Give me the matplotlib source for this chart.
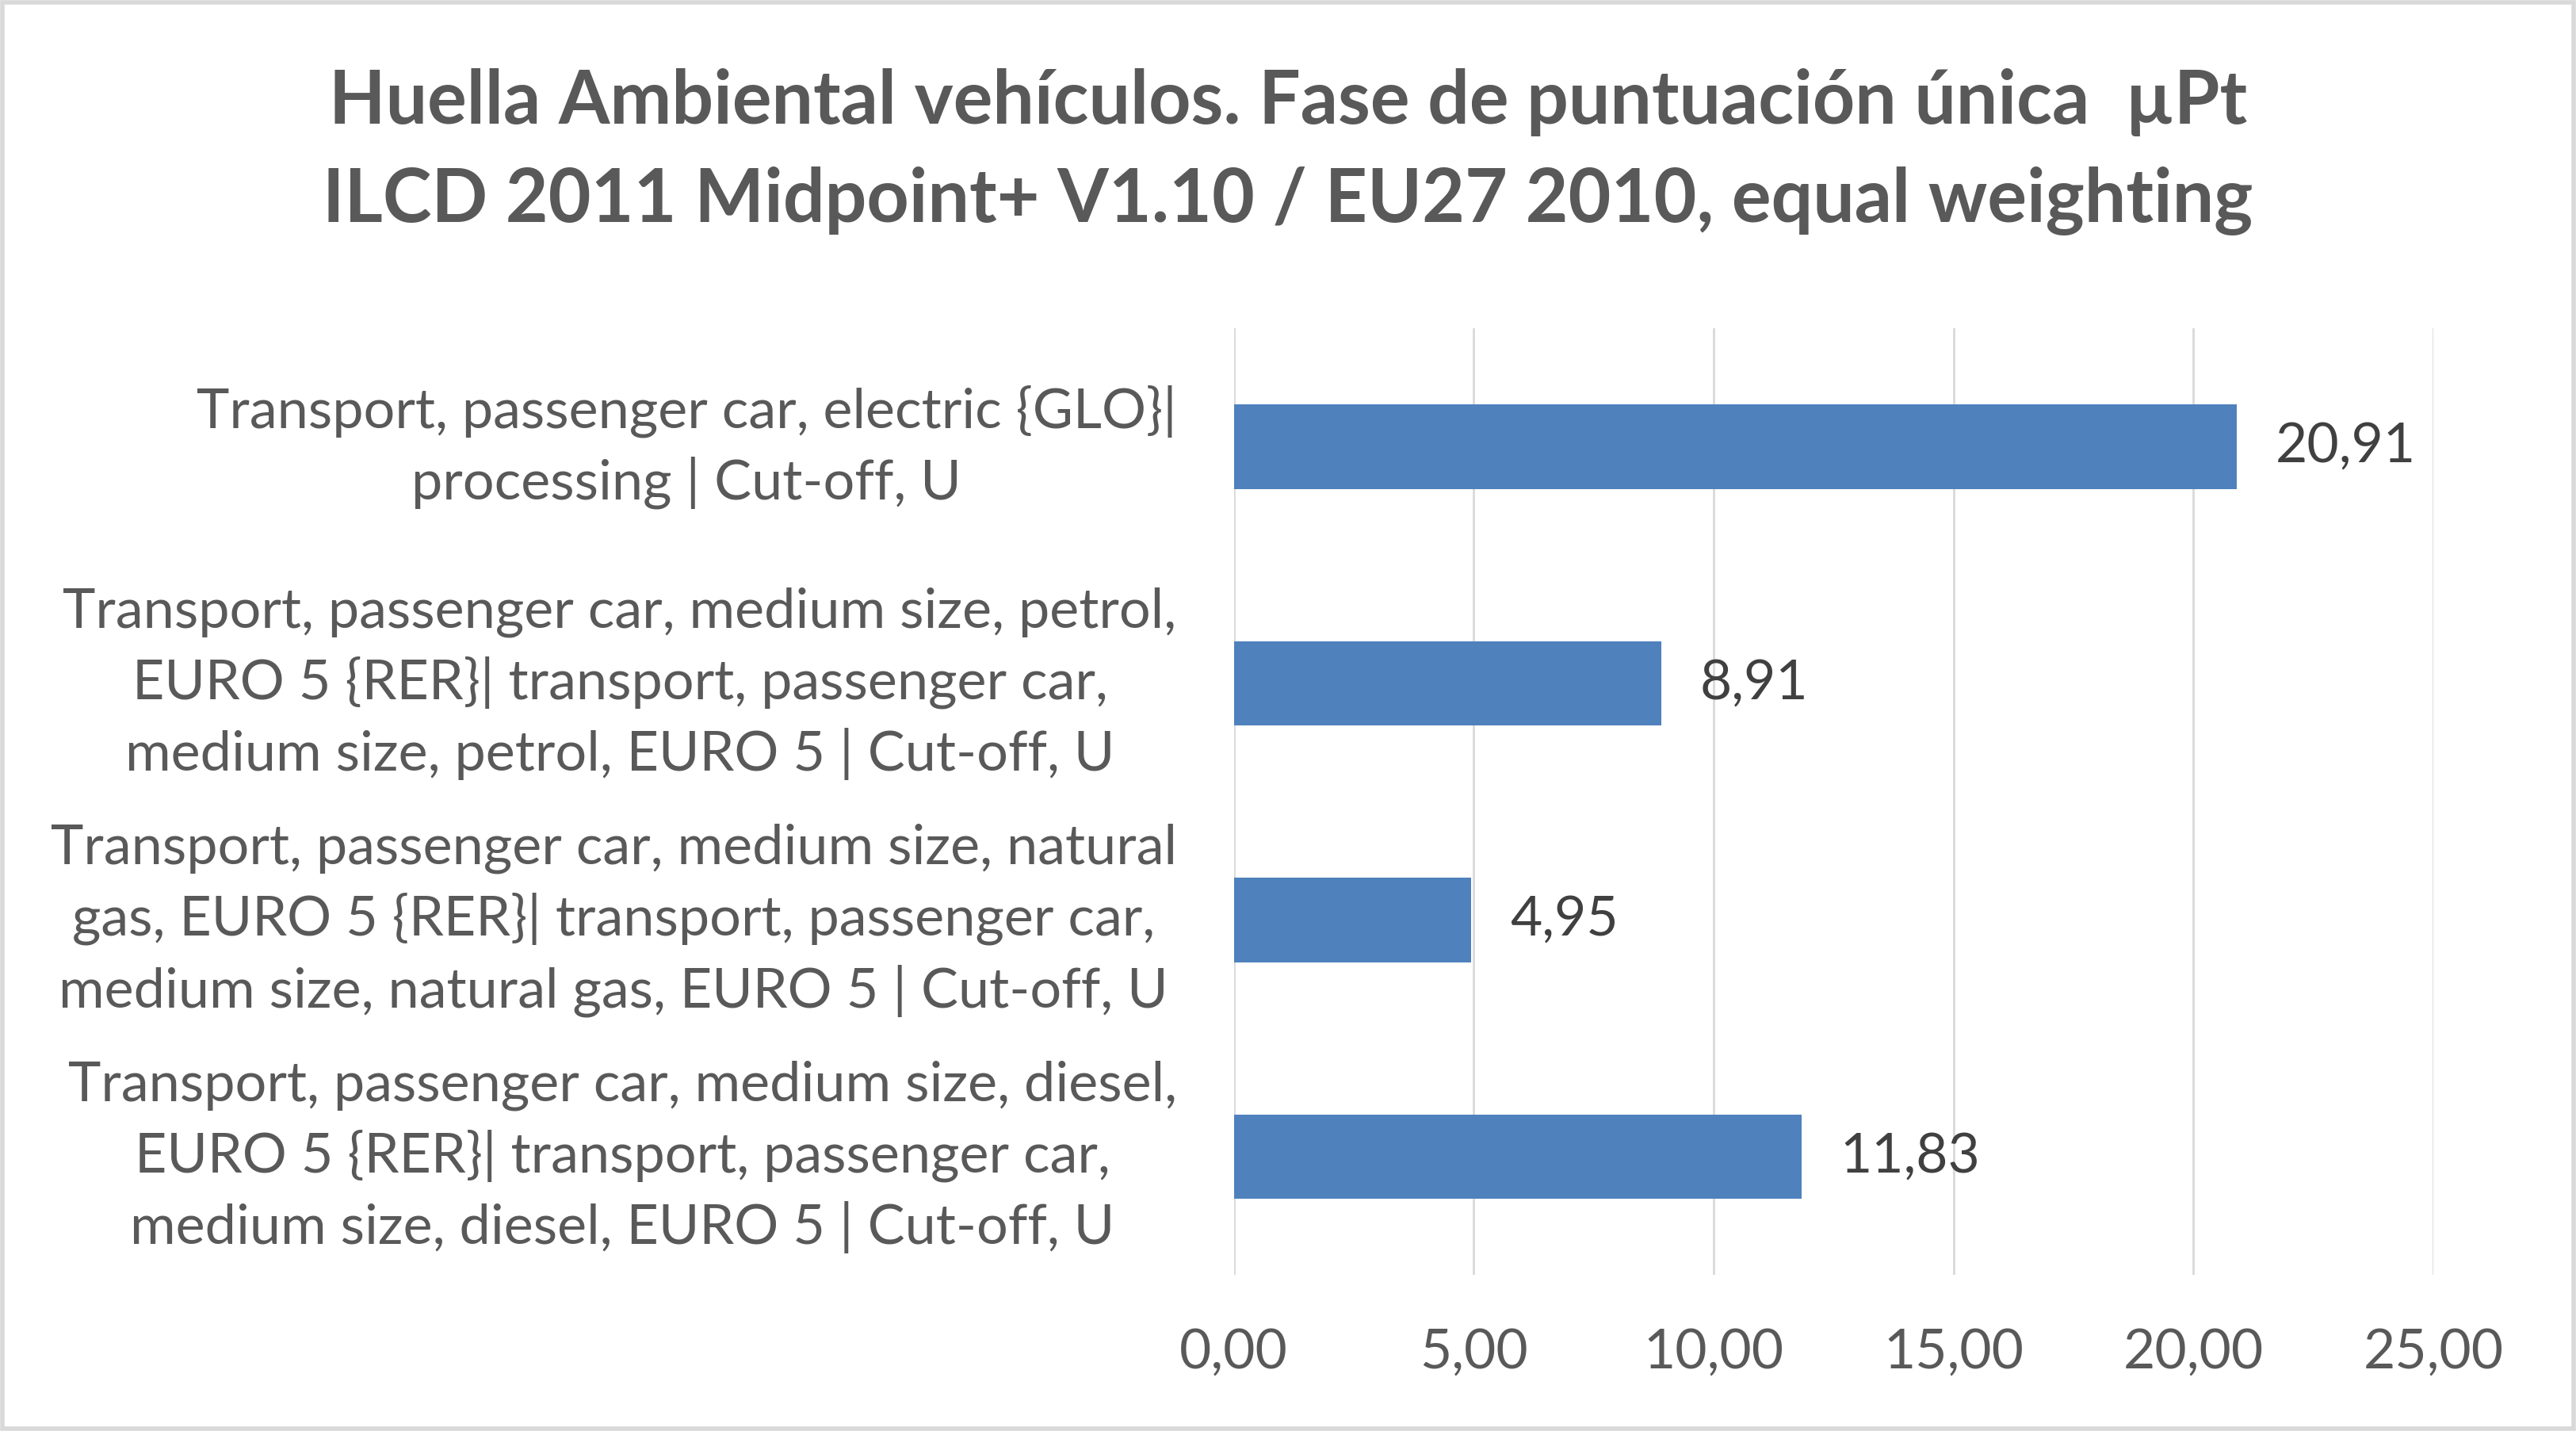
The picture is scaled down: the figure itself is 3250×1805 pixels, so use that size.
import numpy as np
import matplotlib.pyplot as plt
from matplotlib.patches import Rectangle

# data (top to bottom)
categories = [
    "Transport, passenger car, electric {GLO}|\nprocessing | Cut-off, U",
    "Transport, passenger car, medium size, petrol,\nEURO 5 {RER}| transport, passenger car,\nmedium size, petrol, EURO 5 | Cut-off, U",
    "Transport, passenger car, medium size, natural\ngas, EURO 5 {RER}| transport, passenger car,\nmedium size, natural gas, EURO 5 | Cut-off, U",
    "Transport, passenger car, medium size, diesel,\nEURO 5 {RER}| transport, passenger car,\nmedium size, diesel, EURO 5 | Cut-off, U",
]
values = [20.91, 8.91, 4.95, 11.83]
x_ticks = [0, 5, 10, 15, 20, 25]

title = ("Huella Ambiental vehículos. Fase de puntuación única  µPt\n"
         "ILCD 2011 Midpoint+ V1.10 / EU27 2010, equal weighting")

plt.rcParams['font.family'] = ['Lato', 'DejaVu Sans']

fig = plt.figure(figsize=(32.5, 18.05), dpi=100)
ax = fig.add_axes([0.479, 0.109, 0.4656, 0.6615])

y = np.arange(len(categories))
ax.barh(y, values, height=0.356, color='#4F81BD', zorder=3)

# value labels
for yi, v in zip(y, values):
    ax.annotate(f"{v:.2f}".replace('.', ','), (v, yi), xytext=(35, 0),
                textcoords='offset points', va='center', ha='left',
                fontsize=50, color='#404040')

ax.set_xlim(0, 25)
ax.set_ylim(-0.5, len(categories) - 0.5)
ax.invert_yaxis()

ax.set_xticks(x_ticks)
ax.set_xticklabels([f"{t:.2f}".replace('.', ',') for t in x_ticks],
                   fontsize=50, color='#595959')
ax.set_yticks(y)
ax.set_yticklabels(categories, fontsize=50.5, color='#595959',
                   multialignment='center', linespacing=1.44, va='center')
ax.tick_params(axis='both', length=0)
ax.tick_params(axis='y', pad=52)
ax.tick_params(axis='x', pad=48)

ax.grid(axis='x', color='#D9D9D9', linewidth=2, zorder=0)
for s in ax.spines.values():
    s.set_visible(False)

fig.text(0.5, 0.894, title, ha='center', va='center', fontsize=67,
         fontweight='bold', color='#595959', linespacing=1.55)

# light grey chart border
fig.patches.append(Rectangle((0.0008, 0.0014), 0.9984, 0.9972,
                             transform=fig.transFigure, fill=False,
                             edgecolor='#D9D9D9', linewidth=4))

plt.savefig("out.png", dpi=100)
